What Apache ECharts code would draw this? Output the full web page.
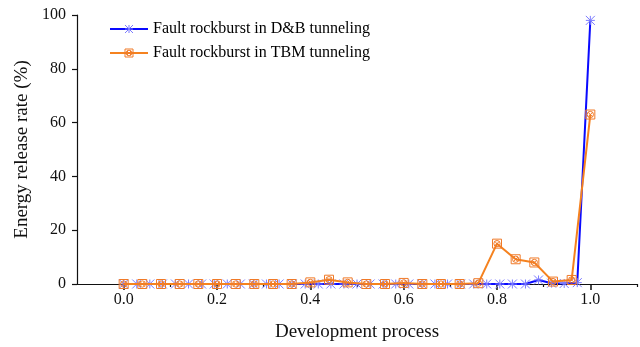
<!DOCTYPE html>
<html>
<head>
<meta charset="utf-8">
<script src="https://cdn.jsdelivr.net/npm/echarts@6/dist/echarts.min.js"></script>
<style>html,body{margin:0;padding:0;background:#fff;}#c{width:640px;height:347px;}</style>
</head>
<body>
<div id="c"></div>
<script>
var xTickLabels = [0, 0.2, 0.4, 0.6, 0.8, 1.0];
var xMinorTicks = [0.1, 0.3, 0.5, 0.7, 0.9, 1.1];
var yTickLabels = [0, 20, 40, 60, 80, 100];

var dbX = [0, 0.028, 0.056, 0.083, 0.111, 0.139, 0.167, 0.194, 0.222, 0.25, 0.278, 0.306, 0.333, 0.361, 0.389, 0.417, 0.444, 0.472, 0.5, 0.528, 0.556, 0.583, 0.611, 0.639, 0.667, 0.694, 0.722, 0.75, 0.778, 0.806, 0.833, 0.861, 0.889, 0.917, 0.944, 0.972, 1.0];
var dbY = [0, 0, 0, 0, 0, 0, 0, 0, 0, 0, 0, 0, 0, 0, 0, 0, 0, 0, 0, 0, 0, 0, 0, 0, 0, 0, 0, 0, 0, 0, 0, 0, 1.5, 0.3, 0.2, 0.5, 98];

var tbmX = [0, 0.04, 0.08, 0.12, 0.16, 0.2, 0.24, 0.28, 0.32, 0.36, 0.4, 0.44, 0.48, 0.52, 0.56, 0.6, 0.64, 0.68, 0.72, 0.76, 0.8, 0.84, 0.88, 0.92, 0.96, 1.0];
var tbmY = [0, 0, 0, 0, 0, 0, 0, 0, 0, 0, 0.6, 1.6, 0.6, 0, 0, 0.4, 0, 0, 0, 0.3, 15, 9.2, 8, 0.9, 1.5, 63];

var seriesNames = ['Fault rockburst in D&B tunneling', 'Fault rockburst in TBM tunneling'];

function pair(xs, ys) { return xs.map(function (x, i) { return [x, ys[i]]; }); }

var serif = '"Liberation Serif","DejaVu Serif",serif';
var blueSym = 'path://M0,0L10,10M10,0L0,10M5,0L5,10M0,5L10,5';
var orangeSym = 'path://M0,0L10,0L10,10L0,10Z M5,1.5A3.5,3.5 0 1 1 5,8.5A3.5,3.5 0 1 1 5,1.5Z M2.5,2.5L7.5,7.5M7.5,2.5L2.5,7.5';
var blueLine = '#0a0aff', blueMark = '#7b7bff', orangeLine = '#f5821f', orangeMark = '#f07a28';

var chart = echarts.init(document.getElementById('c'), null, {renderer: 'canvas'});
chart.setOption({
  animation: false,
  backgroundColor: '#fff',
  color: [blueLine, orangeLine],
  textStyle: {fontFamily: serif},
  grid: {left: 77, right: 3, top: 15, bottom: 61},
  legend: {
    left: 104, top: 16, orient: 'vertical',
    itemWidth: 38, itemHeight: 10, itemGap: 8,
    textStyle: {fontFamily: serif, fontSize: 16, color: '#000'},
    data: [
      {name: seriesNames[0],
       itemStyle: {color: 'rgba(0,0,0,0)', borderColor: blueMark, borderWidth: 1},
       lineStyle: {color: blueLine, width: 2}},
      {name: seriesNames[1],
       itemStyle: {color: 'rgba(0,0,0,0)', borderColor: orangeMark, borderWidth: 1},
       lineStyle: {color: orangeLine, width: 2}}
    ]
  },
  xAxis: [{
    type: 'value', min: -0.1, max: 1.1,
    name: 'Development process', nameLocation: 'middle', nameGap: 39,
    nameTextStyle: {fontFamily: serif, fontSize: 19, color: '#111'},
    axisLine: {lineStyle: {color: '#111', width: 1.2}},
    axisTick: {show: true, customValues: xTickLabels, length: 6, lineStyle: {color: '#111', width: 1.5}},
    axisLabel: {customValues: xTickLabels, fontFamily: serif, fontSize: 16, color: '#111', margin: 8,
      formatter: function (v) { return v.toFixed(1); }},
    splitLine: {show: false}
  }, {
    type: 'value', min: -0.1, max: 1.1, position: 'bottom',
    axisLine: {show: false},
    axisTick: {show: true, customValues: xMinorTicks, length: 3, lineStyle: {color: '#111', width: 1.2}},
    axisLabel: {show: false},
    splitLine: {show: false}
  }],
  yAxis: {
    type: 'value', min: 0, max: 100, interval: 20,
    name: 'Energy release rate (%)', nameLocation: 'middle', nameGap: 36,
    nameTextStyle: {fontFamily: serif, fontSize: 19, color: '#111'},
    axisLine: {show: true, onZero: false, lineStyle: {color: '#111', width: 1.2}},
    axisTick: {show: true, length: 5, lineStyle: {color: '#111', width: 1.2}},
    axisLabel: {fontFamily: serif, fontSize: 16, color: '#111', margin: 11},
    splitLine: {show: false}
  },
  series: [{
    name: seriesNames[0], type: 'line', data: pair(dbX, dbY),
    symbol: blueSym, symbolSize: 9, showAllSymbol: true,
    lineStyle: {color: blueLine, width: 2},
    itemStyle: {color: 'rgba(0,0,0,0)', borderColor: blueMark, borderWidth: 1},
    z: 2
  }, {
    name: seriesNames[1], type: 'line', data: pair(tbmX, tbmY),
    symbol: orangeSym, symbolSize: 9, showAllSymbol: true,
    lineStyle: {color: orangeLine, width: 2},
    itemStyle: {color: 'rgba(0,0,0,0)', borderColor: orangeMark, borderWidth: 1},
    z: 3
  }]
});
</script>
</body>
</html>
